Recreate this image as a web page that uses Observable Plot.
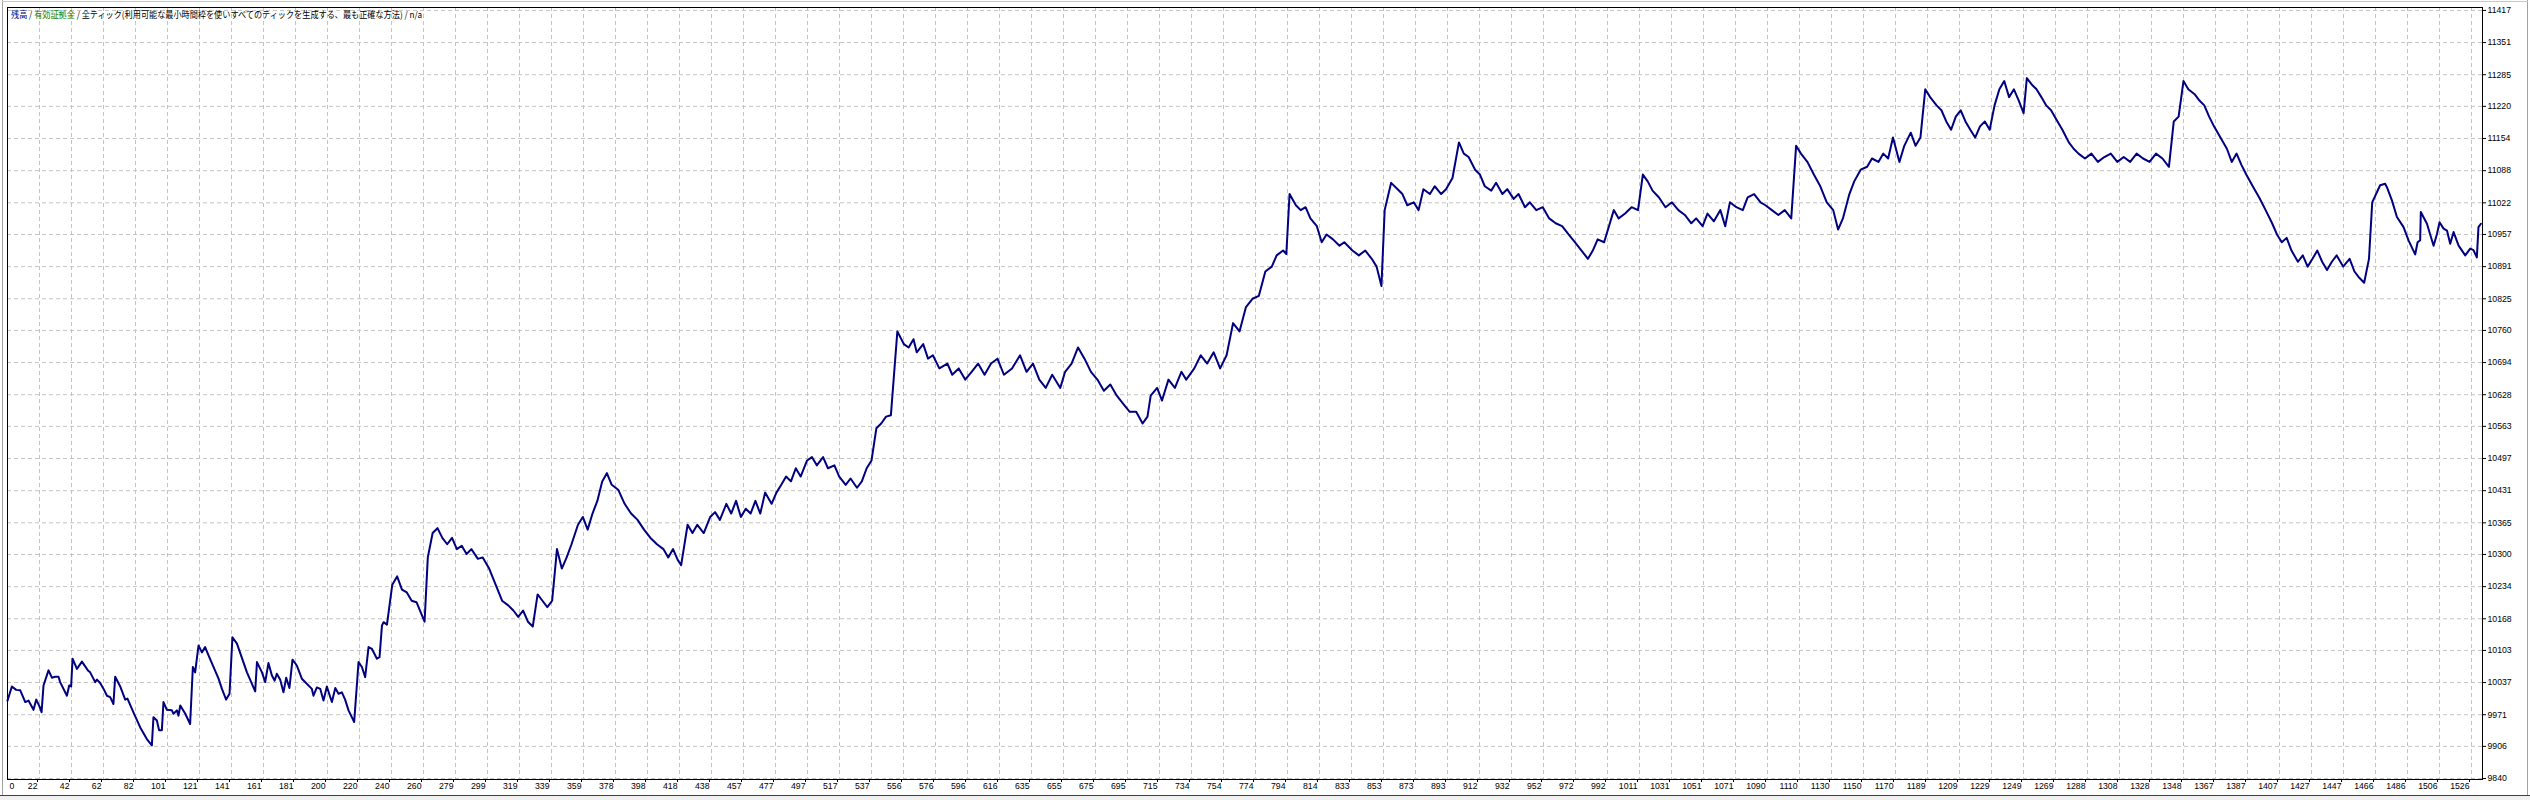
<!DOCTYPE html>
<html><head><meta charset="utf-8">
<script src="https://cdn.jsdelivr.net/npm/d3@7"></script>
<script src="https://cdn.jsdelivr.net/npm/@observablehq/plot@0.6"></script>
<style>
html,body{margin:0;padding:0;background:#fff;}
#wrap{position:relative;width:2530px;height:800px;overflow:hidden;background:#fff;}
#chart{position:absolute;left:0;top:0;}
#title{position:absolute;left:11px;top:9px;font-family:"Noto Sans CJK JP","Noto Sans",sans-serif;font-size:9px;line-height:12px;white-space:nowrap;transform-origin:0 0;color:#000;}
.chromeL{position:absolute;left:2px;top:0;width:1px;height:795px;background:#a0a0a0;}
.chromeR{position:absolute;left:2527px;top:0;width:1px;height:795px;background:#a0a0a0;}
.chromeT{position:absolute;left:2px;top:1px;width:2526px;height:1px;background:#c8c8c8;}
.chromeB{position:absolute;left:0;top:795px;width:2530px;height:5px;background:#f0f0f0;border-top:1px solid #404040;}
</style></head>
<body><div id="wrap"><div id="chart"></div><div class="chromeL"></div><div class="chromeR"></div><div class="chromeT"></div><div class="chromeB"></div><div id="title"></div></div>
<script>
// ---- data ----
const titleParts = [
  {text: "残高", color: "#000080"},
  {text: " / ", color: "#000"},
  {text: "有効証拠金", color: "#008000"},
  {text: " / 全ティック(利用可能な最小時間枠を使いすべてのティックを生成する、最も正確な方法) / n/a", color: "#000"}
];
const xTickLabels = [0,22,42,62,82,101,121,141,161,181,200,220,240,260,279,299,319,339,359,378,398,418,438,457,477,497,517,537,556,576,596,616,635,655,675,695,715,734,754,774,794,814,833,853,873,893,912,932,952,972,992,1011,1031,1051,1071,1090,1110,1130,1150,1170,1189,1209,1229,1249,1269,1288,1308,1328,1348,1367,1387,1407,1427,1447,1466,1486,1506,1526];
const yTicks = [9840,9906,9971,10037,10103,10168,10234,10300,10365,10431,10497,10563,10628,10694,10760,10825,10891,10957,11022,11088,11154,11220,11285,11351,11417];
const xDomain = [0, 1532.8];
const yDomain = [9838, 11423];

const tradeNo = [
0,2.7,5.4,7.9,11.0,13.0,16.1,17.8,19.8,21.1,22.3,25.4,27.5,29.5,31.6,32.6,36.8,38.2,39.4,40.3,43.0,46.1,49.8,51.2,54.3,55.4,57.4,59.5,61.6,63.6,65.6,66.7,69.8,72.9,74.3,78.0,82.2,86.3,89.4,90.4,92.5,93.9,95.6,96.6,98.7,101.8,102.8,104.9,105.9,107.0,110.1,113.1,114.8,116.2,118.3,120.4,122.4,124.5,130.7,132.8,135.4,137.5,139.3,142.1,148.3,153.4,154.5,157.6,159.6,161.6,163.7,165.4,166.8,168.9,170.9,172.6,174.6,176.5,179.2,182.3,188.5,189.5,191.6,193.7,195.7,197.8,199.9,200.9,203.0,205.0,207.1,209.1,211.2,214.7,217.4,219.5,221.5,223.6,225.7,228.8,230.4,231.9,232.9,235.0,
238.3,241.3,244.3,247.3,250.3,253.3,256.3,258.3,260.3,263.3,266.3,269.3,272.3,275.3,278.3,281.3,284.3,287.3,291.3,294.3,298.3,302.3,306.3,310.3,313.3,316.3,319.3,322.3,325.3,328.3,331.3,334.3,337.3,340.3,343.3,346.3,349.3,353.3,356.3,359.3,362.3,365.3,368.3,371.2,374.2,378.2,382.2,386.2,390.2,394.2,398.2,402.2,406.2,409.2,412.2,415.2,417.2,421.2,424.2,427.2,431.2,435.2,438.2,441.2,445.2,448.2,451.2,454.2,457.2,460.2,463.2,466.2,469.2,473.2,476.2,479.2,482.2,485.2,488.2,491.2,495.2,498.2,501.2,505.1,508.1,512.1,515.1,519.1,522.1,526.1,529.1,532.1,535.1,538.1,541.1,544.1,547.1,
551.1,555.1,558.1,561.1,563.1,567.1,570.1,573.1,577.1,582.1,585.1,589.1,593.1,597.1,601.1,605.1,609.1,613.1,617.1,622.1,627.1,631.1,635.1,639.0,643.0,647.0,652.0,655.0,659.0,663.0,667.0,671.0,675.0,679.0,683.0,687.0,691.0,695.0,699.0,703.0,706.0,708.0,712.0,715.0,719.0,723.0,727.0,730.0,735.0,739.0,743.0,747.0,751.0,755.0,759.0,763.0,767.0,771.0,775.0,779.0,783.0,786.0,790.0,792.0,794.0,
797.9,800.9,803.9,806.9,810.9,813.9,816.9,820.9,824.9,827.9,832.9,836.9,840.9,844.9,847.9,850.9,852.9,856.9,860.9,863.9,866.9,870.9,873.9,876.9,880.9,883.9,887.9,890.9,894.9,898.9,901.9,904.9,908.9,911.9,914.9,918.9,921.9,925.8,928.8,932.8,935.8,939.8,942.8,946.8,950.8,954.8,958.8,962.8,966.8,970.8,974.8,978.8,981.8,984.8,988.8,991.8,994.8,997.8,1001.8,1005.8,1009.8,1012.8,1015.8,1018.8,1022.8,1026.8,1030.8,1034.8,1038.8,1042.8,1045.8,1049.8,1052.8,1056.8,1060.8,1063.8,1066.7,1070.7,1074.7,1077.7,1081.7,1085.7,1088.7,1092.7,1096.7,1100.7,1104.7,1107.7,1110.7,1114.7,1118.7,1122.7,1126.7,1130.7,1133.7,1136.7,1140.7,1143.7,1147.7,1151.7,1154.7,1158.7,1161.7,1164.7,1167.7,1171.7,1174.7,1178.7,1181.7,1184.7,1187.7,1190.7,1194.7,1197.7,1200.7,1203.7,1206.6,1209.6,1212.6,1215.6,1218.6,1221.6,1224.6,1227.6,1230.6,1233.6,1236.6,1239.6,1242.6,1245.6,1248.6,1250.6,1253.6,1256.6,1259.6,1262.6,1265.6,1269.6,1272.6,1276.6,1279.6,1282.6,1286.6,1290.6,1294.6,1298.6,1302.6,1306.6,1310.6,1314.6,1318.6,1322.6,1326.6,1330.6,1334.6,1338.6,1341.6,1344.6,1347.6,1350.6,1354.5,1357.5,1360.5,1363.5,1366.5,1370.5,1374.5,1377.5,1380.5,1383.5,1386.5,1390.5,1394.5,1398.5,1402.5,1405.5,1408.5,1411.5,1414.5,1418.5,1421.5,1424.5,1427.5,1430.5,1433.5,1436.5,1439.5,1442.5,1446.5,1450.5,1453.5,1456.5,1459.5,1462.5,1464.5,
1469.4,1472.5,1473.6,1476.7,1479.8,1483.9,1487.0,1491.1,1492.6,1494.2,1494.6,1498.4,1502.5,1504.6,1506.2,1508.7,1510.8,1512.8,1514.9,1518.0,1522.1,1525.2,1527.2,1529.3,1530.3,1531.8
];
const equity = [
10000,10029,10022,10021,9997,10000,9981,10002,9988,9976,10031,10062,10047,10049,10049,10038,10010,10031,10029,10086,10065,10080,10062,10058,10038,10043,10036,10024,10010,10007,9993,10049,10029,10002,10004,9976,9945,9921,9908,9966,9959,9939,9939,9997,9981,9980,9973,9980,9969,9990,9973,9952,10069,10058,10113,10099,10110,10093,10045,10024,10002,10014,10130,10117,10058,10019,10079,10058,10038,10077,10052,10041,10055,10043,10017,10047,10026,10084,10072,10045,10024,10010,10027,10024,10000,10029,10007,9997,10026,10014,10017,10002,9980,9956,10079,10069,10048,10110,10106,10086,10089,10154,10161,10156,
10238,10255,10228,10222,10205,10202,10178,10162,10294,10344,10354,10334,10321,10334,10311,10318,10301,10311,10291,10294,10271,10238,10205,10195,10185,10172,10185,10162,10152,10218,10205,10192,10205,10311,10271,10294,10321,10361,10377,10351,10384,10410,10450,10467,10443,10433,10404,10384,10371,10351,10334,10321,10311,10294,10311,10288,10278,10361,10344,10361,10344,10377,10387,10371,10404,10384,10410,10377,10394,10384,10410,10384,10427,10404,10427,10443,10460,10450,10477,10460,10493,10500,10483,10500,10477,10483,10460,10443,10456,10437,10450,10477,10493,10559,10569,10583,10586,
10758,10732,10725,10742,10715,10732,10702,10709,10682,10692,10669,10682,10659,10675,10692,10669,10692,10702,10669,10682,10709,10675,10692,10659,10642,10669,10642,10675,10692,10725,10702,10675,10659,10636,10649,10626,10609,10593,10593,10569,10583,10626,10642,10616,10659,10642,10675,10659,10682,10709,10692,10715,10682,10709,10775,10758,10808,10825,10831,10881,10891,10914,10924,10917,11040,
11017,11007,11013,10990,10974,10941,10957,10947,10934,10941,10924,10914,10924,10907,10891,10851,11007,11063,11050,11040,11017,11023,11007,11050,11040,11056,11040,11050,11073,11146,11123,11116,11090,11080,11056,11047,11063,11040,11050,11030,11040,11013,11023,11007,11013,10990,10980,10974,10957,10941,10924,10907,10924,10947,10941,10974,11007,10990,11000,11013,11007,11080,11066,11047,11033,11013,11023,11007,10997,10980,10990,10974,11000,10984,11007,10974,11023,11013,11007,11033,11040,11023,11017,11007,10997,11007,10990,11139,11123,11106,11080,11056,11023,11007,10967,10990,11040,11066,11090,11096,11113,11106,11123,11113,11156,11106,11139,11166,11139,11156,11255,11239,11222,11212,11189,11172,11199,11212,11189,11172,11156,11179,11189,11172,11222,11255,11272,11239,11255,11232,11206,11278,11265,11255,11239,11222,11212,11189,11172,11146,11133,11123,11113,11123,11106,11116,11123,11106,11116,11106,11123,11113,11106,11123,11113,11096,11189,11199,11272,11255,11245,11232,11222,11199,11179,11156,11133,11106,11123,11100,11080,11056,11033,11007,10980,10957,10941,10950,10924,10901,10914,10891,10907,10924,10901,10884,10901,10914,10891,10907,10881,10868,10858,10907,11023,
11058,11061,11054,11027,10993,10972,10945,10916,10941,10945,11003,10979,10934,10958,10982,10969,10965,10938,10962,10934,10914,10928,10925,10910,10972,10979
];

// ---- chart ----
const data = tradeNo.map((t, i) => ({t, v: equity[i]}));
const xTickStep = xTickLabels[xTickLabels.length - 1] / (xTickLabels.length - 1);
const xTickPos = xTickLabels.map((_, k) => k * xTickStep);
const fmtX = d => String(xTickLabels[Math.round(d / xTickStep)]);
const font = "Liberation Sans, Arial, sans-serif";
const gridStyle = {stroke: "#c4c4c4", strokeOpacity: 1, strokeDasharray: "4,3", strokeWidth: 1};

const chart = Plot.plot({
  width: 2530, height: 795,
  marginLeft: 7, marginRight: 48, marginTop: 7, marginBottom: 16,
  style: {fontFamily: font, fontSize: "8.7px", color: "#000", background: "transparent"},
  x: {type: "linear", domain: xDomain, axis: null},
  y: {type: "linear", domain: yDomain, axis: null},
  marks: [
    Plot.gridX(xTickPos.slice(1), gridStyle),
    Plot.gridY(yTicks, gridStyle),
    Plot.line(data, {x: "t", y: "v", stroke: "#000080", strokeWidth: 2, strokeLinejoin: "round"}),
    Plot.frame({stroke: "#000", strokeWidth: 1}),
    Plot.axisX(xTickPos.slice(1), {anchor: "bottom", label: null, tickFormat: fmtX, tickSize: 3, tickPadding: 0, textAnchor: "end", dx: -2, fill: "#000", stroke: "#000", strokeOpacity: 1}),
    Plot.axisX([0], {anchor: "bottom", label: null, tickFormat: fmtX, tickSize: 0, tickPadding: 3, textAnchor: "start", dx: 2, fill: "#000"}),
    Plot.axisY(yTicks, {anchor: "right", label: null, tickFormat: d => String(d), tickSize: 3, tickPadding: 2, textAnchor: "start", fill: "#000", stroke: "#000", strokeOpacity: 1})
  ]
});
document.getElementById("chart").appendChild(chart);

// title inside frame, top-left
const title = document.getElementById("title");
for (const p of titleParts) {
  const s = document.createElement("span");
  s.textContent = p.text; s.style.color = p.color;
  title.appendChild(s);
}
const w = title.getBoundingClientRect().width;
title.style.transform = `scaleX(${411 / w})`;
</script>
</body></html>
